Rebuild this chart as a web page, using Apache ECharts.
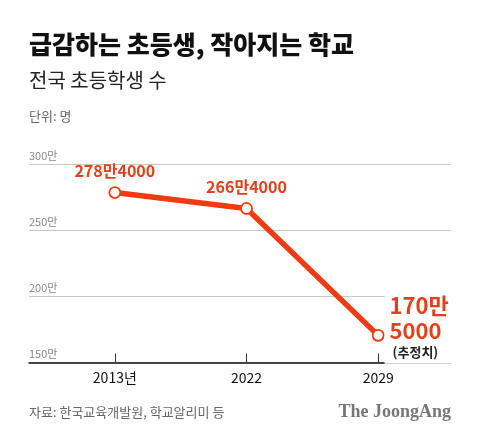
<!DOCTYPE html>
<html><head><meta charset="utf-8">
<script src="https://cdn.jsdelivr.net/npm/echarts@6/dist/echarts.min.js"></script>
<style>html,body{margin:0;padding:0;background:#fff}#c{width:480px;height:439px}</style>
</head><body><div id="c"></div>
<script>
const categories = ['2013년', '2022', '2029'];
const students = [278.4, 266.4, 170.5]; // 만 명
const valueLabels = ['278만4000', '266만4000', '170만\n5000'];
const estimateNote = '(추정치)';
const yTicks = [150, 200, 250, 300];

const RED = '#ee3c12';
const LABEL_RED = '#e4401b';
const FONT = "'Noto Sans CJK KR', 'Noto Sans', sans-serif";

const chart = echarts.init(document.getElementById('c'));

const seriesData = students.map((v, i) => {
  const item = { value: v };
  if (i === students.length - 1) {
    item.label = {
      show: true,
      position: 'right',
      distance: 0,
      offset: [0, -8],
      align: 'left',
      backgroundColor: '#fff',
      padding: [2, 4, 2, 5],
      formatter: () => valueLabels[i].split('\n').map(s => '{a|' + s + '}').join('\n') + '\n{b|' + estimateNote + '}',
      rich: {
        a: { fontFamily: FONT, fontSize: 22, fontWeight: 'bold', color: LABEL_RED, lineHeight: 25, align: 'left' },
        b: { fontFamily: FONT, fontSize: 13, color: '#222', lineHeight: 19, padding: [0, 0, 0, 3], align: 'left' }
      }
    };
  }
  return item;
});

chart.setOption({
  animation: false,
  backgroundColor: '#fff',
  graphic: [
    { type: 'text', x: 29, y: 44, style: { text: '급감하는 초등생, 작아지는 학교', font: "900 25px " + FONT, fill: '#111', textVerticalAlign: 'middle' } },
    { type: 'text', x: 29, y: 80, style: { text: '전국 초등학생 수', font: "20px " + FONT, fill: '#222', textVerticalAlign: 'middle' } },
    { type: 'text', x: 29, y: 116, style: { text: '단위: 명', font: "13px " + FONT, fill: '#666', textVerticalAlign: 'middle' } },
    { type: 'text', x: 29, y: 412, style: { text: '자료: 한국교육개발원, 학교알리미 등', font: "13px " + FONT, fill: '#666', textVerticalAlign: 'middle' } },
    { type: 'text', x: 451, y: 412, style: { text: 'The JoongAng', font: "bold 18px 'Liberation Serif', 'DejaVu Serif', serif", fill: '#777', textAlign: 'right', textVerticalAlign: 'middle' } }
  ],
  grid: [
    { left: 29, right: 29, top: 164, bottom: 76.5 },
    { left: 49, right: 36, top: 164, bottom: 76.5 }
  ],
  xAxis: [
    { gridIndex: 0, type: 'value', min: 0, max: 1,
      axisLine: { show: true, onZero: false, lineStyle: { color: '#111', width: 1.5 } },
      axisTick: { show: false }, axisLabel: { show: false }, splitLine: { show: false } },
    { gridIndex: 1, type: 'category', data: categories, boundaryGap: true,
      axisLine: { show: false },
      axisTick: { show: true, inside: true, alignWithLabel: true, length: 9, lineStyle: { color: '#333', width: 1 } },
      axisLabel: { margin: 8, fontFamily: FONT, fontSize: 14, color: '#111' },
      splitLine: { show: false } }
  ],
  yAxis: [
    { gridIndex: 0, type: 'value', min: yTicks[0], max: yTicks[yTicks.length - 1], interval: 50,
      axisLine: { show: false }, axisTick: { show: false },
      axisLabel: { inside: true, margin: 0, align: 'left', verticalAlign: 'bottom', padding: [0, 0, 3, 0],
        fontFamily: FONT, fontSize: 11, color: '#888', formatter: v => v + '만' },
      splitLine: { show: true, lineStyle: { color: '#c8c8c8', width: 1.2 } } },
    { gridIndex: 1, type: 'value', min: yTicks[0], max: yTicks[yTicks.length - 1], interval: 50, show: false,
      splitLine: { show: false } }
  ],
  series: [{
    type: 'line',
    xAxisIndex: 1, yAxisIndex: 1,
    data: seriesData,
    symbol: 'circle',
    symbolSize: 11,
    lineStyle: { color: RED, width: 5.5 },
    itemStyle: { color: '#fff', borderColor: RED, borderWidth: 1.8 },
    z: 5,
    label: {
      show: true, position: 'top', distance: 7,
      fontFamily: FONT, fontSize: 16, fontWeight: 'bold', color: LABEL_RED,
      formatter: p => valueLabels[p.dataIndex]
    }
  }]
});
</script></body></html>
